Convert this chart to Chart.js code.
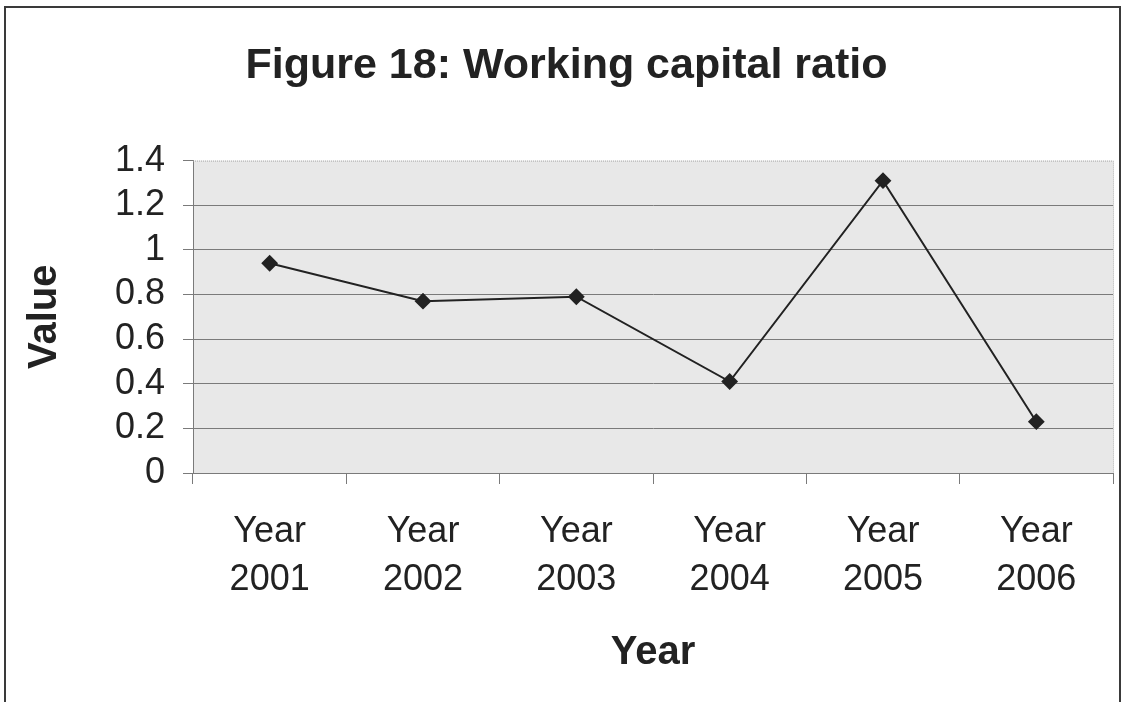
<!DOCTYPE html>
<html>
<head>
<meta charset="utf-8">
<script src="https://cdn.jsdelivr.net/npm/chart.js@4.4.1/dist/chart.umd.min.js"></script>
<style>
  html, body { margin: 0; padding: 0; background: #fff; }
  #wrap { position: relative; width: 1128px; height: 702px; overflow: hidden; }
  #frame { position: absolute; left: 4px; top: 6px; width: 1117px; height: 720px; border: 2px solid #3a3a3a; box-sizing: border-box; }
  canvas { position: absolute; left: 0; top: 0; }
</style>
</head>
<body>
<div id="wrap">
  <div id="frame"></div>
  <canvas id="c" width="1128" height="702"></canvas>
</div>
<script>
const titleText = "Figure 18: Working capital ratio";
const xAxisTitle = "Year";
const yAxisTitle = "Value";
const categories = [["Year", "2001"], ["Year", "2002"], ["Year", "2003"], ["Year", "2004"], ["Year", "2005"], ["Year", "2006"]];
const ratioValues = [0.94, 0.77, 0.79, 0.41, 1.31, 0.23];
const yMin = 0;
const yMax = 1.4;
const yStep = 0.2;

const FONT = "'Liberation Sans', Arial, sans-serif";

const plotBg = {
  id: 'plotBg',
  beforeDraw(chart) {
    const { ctx, chartArea: a } = chart;
    ctx.save();
    ctx.fillStyle = '#e8e8e8';
    ctx.fillRect(a.left, a.top, a.right - a.left, a.bottom - a.top);
    ctx.restore();
  },
  beforeDatasetsDraw(chart) {
    const { ctx, chartArea: a } = chart;
    ctx.save();
    ctx.strokeStyle = '#a8a8a8';
    ctx.lineWidth = 1;
    ctx.setLineDash([1, 1]);
    ctx.beginPath();
    ctx.moveTo(a.left, a.top + 0.5);
    ctx.lineTo(a.right + 0.5, a.top + 0.5);
    ctx.lineTo(a.right + 0.5, a.bottom);
    ctx.stroke();
    ctx.restore();
  }
};

new Chart(document.getElementById('c'), {
  type: 'line',
  data: {
    labels: categories,
    datasets: [{
      data: ratioValues,
      borderColor: '#222',
      backgroundColor: '#222',
      borderWidth: 2,
      pointStyle: 'rectRot',
      pointRadius: 7,
      pointHoverRadius: 7,
      tension: 0,
      fill: false
    }]
  },
  options: {
    responsive: false,
    animation: false,
    devicePixelRatio: 1,
    layout: { padding: { left: 20, right: 15, top: 0, bottom: 0 } },
    plugins: {
      legend: { display: false },
      tooltip: { enabled: false },
      title: {
        display: true,
        text: titleText,
        color: '#222',
        font: { family: FONT, size: 43, weight: 'bold', lineHeight: 1.2 },
        padding: { top: 40, bottom: 69 }
      }
    },
    scales: {
      x: {
        offset: true,
        grid: { offset: true, drawOnChartArea: false, drawTicks: true, tickLength: 11, color: '#7a7a7a' },
        border: { color: '#7a7a7a', width: 1 },
        ticks: {
          color: '#222',
          padding: 24,
          maxRotation: 0,
          autoSkip: false,
          font: { family: FONT, size: 36, lineHeight: 1.33 }
        },
        title: {
          display: true,
          text: xAxisTitle,
          color: '#222',
          font: { family: FONT, size: 40, weight: 'bold', lineHeight: 1.2 },
          padding: { top: 0, bottom: 25 }
        },
        afterFit(scale) { scale.height = 229; }
      },
      y: {
        min: yMin,
        max: yMax,
        grid: {
          color: (c) => (c.tick && c.tick.value >= yMax - 1e-9 ? 'rgba(0,0,0,0)' : '#7a7a7a'),
          tickColor: '#7a7a7a',
          drawTicks: true,
          tickLength: 10
        },
        border: { color: '#7a7a7a', width: 1 },
        ticks: {
          stepSize: yStep,
          autoSkip: false,
          color: '#222',
          padding: 18,
          font: { family: FONT, size: 36 },
          callback: (v) => String(Math.round(v * 10) / 10)
        },
        title: {
          display: true,
          text: yAxisTitle,
          color: '#222',
          font: { family: FONT, size: 40, weight: 'bold', lineHeight: 1.2 },
          padding: { top: 1, bottom: 0 }
        },
        afterFit(scale) { scale.width = 173; }
      }
    }
  },
  plugins: [plotBg]
});
</script>
</body>
</html>
